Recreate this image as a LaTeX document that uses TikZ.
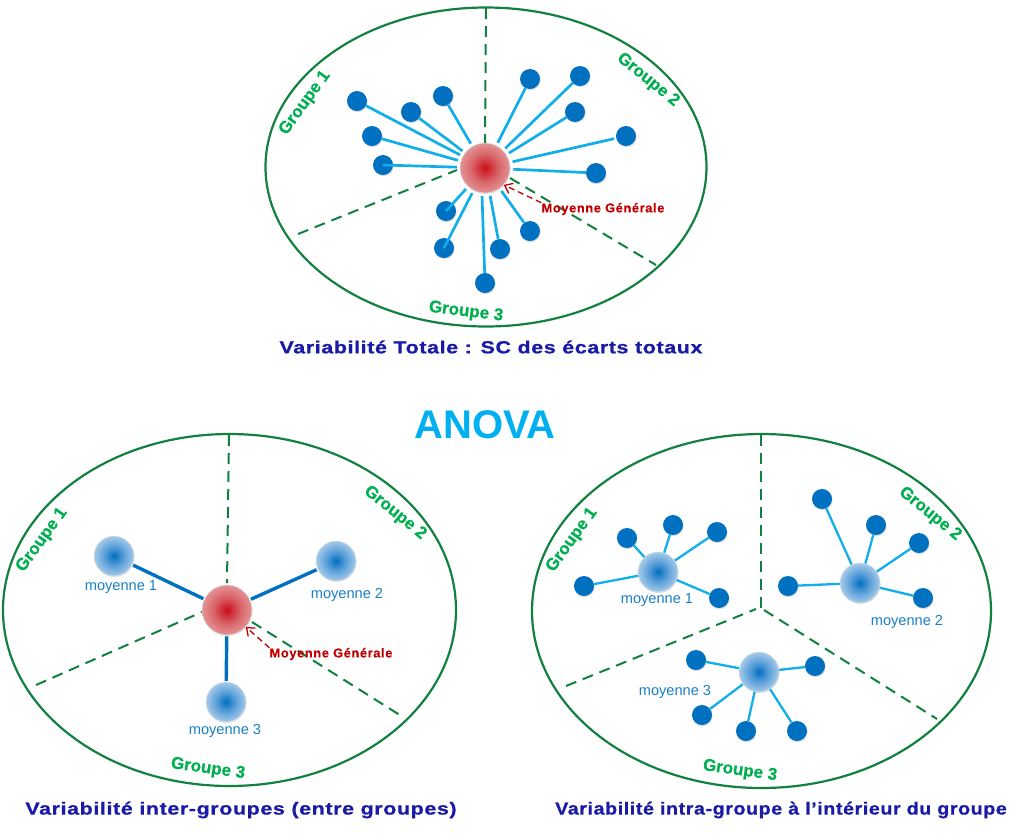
\documentclass[tikz,border=0pt]{standalone}
\usepackage{fontspec}
\setmainfont{Liberation Sans}
\newfontfamily\TitleF[LetterSpace=3.5,BoldFeatures={FakeStretch=1.225,FakeBold=.8}]{Liberation Sans}
\newfontfamily\TitleNarrowF[LetterSpace=3.5,BoldFeatures={FakeStretch=1.12,FakeBold=.8}]{Liberation Sans}
\newfontfamily\GroupF[BoldFeatures={FakeBold=.6}]{Liberation Sans}
\newfontfamily\NoteF[LetterSpace=5,BoldFeatures={FakeBold=.4}]{Liberation Sans}
\usetikzlibrary{arrows.meta,shadows}
\definecolor{ringG}{HTML}{12813F}
\definecolor{labelG}{HTML}{00AF50}
\definecolor{dotB}{HTML}{0070C0}
\definecolor{spokeB}{HTML}{12AEEA}
\definecolor{titleB}{HTML}{1A1AA6}
\definecolor{noteR}{HTML}{C00000}
\definecolor{anovaB}{HTML}{00B0F0}
\pgfdeclareradialshading{hubshade}{\pgfpoint{0bp}{0bp}}{rgb(0bp)=(0.8,0.05,0.1); rgb(14bp)=(0.85,0.4,0.42); rgb(34bp)=(0.92,0.72,0.72); rgb(50bp)=(0.95,0.89,0.88)}
\pgfdeclareradialshading{meanshade}{\pgfpoint{0bp}{0bp}}{rgb(0bp)=(0,0.44,0.75); rgb(12bp)=(0.35,0.62,0.85); rgb(30bp)=(0.76,0.86,0.94); rgb(50bp)=(0.98,0.98,0.99)}

\begin{document}
\begin{tikzpicture}[x=1pt,y=-1pt]
	\tikzstyle{ring} = [draw=ringG, line width=2.2pt]
	\tikzstyle{part} = [draw=ringG, line width=2pt, dash pattern=on 11pt off 7pt]
	\tikzstyle{hub} = [circle, draw=black!12, line width=.5pt, minimum size=50pt, inner sep=0pt, shading=hubshade, drop shadow={shadow xshift=.6pt,shadow yshift=-1pt,opacity=.25}]
	\tikzstyle{mean} = [circle, draw=black!12, line width=.5pt, minimum size=40pt, inner sep=0pt, shading=meanshade, drop shadow={shadow xshift=.6pt,shadow yshift=-1pt,opacity=.25}]
	\tikzstyle{dot} = [circle, fill=dotB, minimum size=20pt, inner sep=0pt, drop shadow={shadow xshift=.6pt,shadow yshift=-1.2pt,opacity=.25}]
	\tikzstyle{spoke} = [draw=spokeB, line width=2.7pt, shorten >=3pt]
	\tikzstyle{thin spoke} = [draw=spokeB, line width=2.3pt]
	\tikzstyle{bar} = [draw=dotB, line width=3.4pt, shorten <=1pt, shorten >=1pt]
	\tikzstyle{group} = [text=labelG, font=\GroupF\bfseries\fontsize{17}{18}\selectfont, inner sep=0pt]
	\tikzstyle{meanT} = [text=dotB!90!white, font=\fontsize{14.6}{16}\selectfont, inner sep=0pt]
	\tikzstyle{note} = [text=noteR, font=\NoteF\bfseries\fontsize{12.8}{14}\selectfont, inner sep=0pt]
	\tikzstyle{pointer} = [draw=noteR, line width=1.3pt, dash pattern=on 6pt off 4pt, -{Straight Barb[length=7pt,width=11pt]}]
	\tikzstyle{caption} = [text=titleB, font=\TitleF\bfseries\fontsize{17.5}{18}\selectfont, inner sep=0pt]

	\useasboundingbox (0,0) rectangle (1024,839);

	% total
	\coordinate (topT) at (486,8);
	\coordinate (leftT) at (298,234);
	\coordinate (rightT) at (656,265);
	\coordinate (innerLT) at (457,170);
	\coordinate (innerRT) at (510,178);
	\coordinate (innerTT) at (485,143);
	\draw[ring] (486,167) ellipse [x radius=220.5, y radius=159.5];
	\draw[part] (topT) -- (innerTT);
	\draw[part] (leftT) -- (innerLT);
	\draw[part] (innerRT) -- (rightT);
	\node(hubT)[hub] at (485,168){};
	\node(t1)[dot] at (357,101){} edge[spoke] (hubT);
	\node(t2)[dot] at (411,112){} edge[spoke] (hubT);
	\node(t3)[dot] at (443,96){} edge[spoke] (hubT);
	\node(t4)[dot] at (372,136){} edge[spoke] (hubT);
	\node(t5)[dot] at (383,165){};
	\node(t6)[dot] at (530,79){} edge[spoke] (hubT);
	\node(t7)[dot] at (580,76){} edge[spoke] (hubT);
	\node(t8)[dot] at (575,112){} edge[spoke] (hubT);
	\node(t9)[dot] at (626,136){} edge[spoke,shorten <=2pt] (hubT);
	\node(t10)[dot] at (596,173){} edge[spoke,shorten >=3pt] (hubT);
	\node(t11)[dot] at (446,211){};
	\node(t12)[dot] at (444,248){};
	\node(t13)[dot] at (500,249){} edge[spoke] (hubT);
	\node(t14)[dot] at (530,231){} edge[spoke] (hubT);
	\node(t15)[dot] at (485,283){} edge[spoke] (hubT.-97);
	\draw[spoke] (t5.center) -- (hubT);
	\draw[spoke] (t11.center) -- (hubT);
	\draw[spoke] (t12.center) -- (hubT);
	\node(g1T)[group,rotate=54] at (305,103){Groupe 1};
	\node(g2T)[group,rotate=-39] at (648,80){Groupe 2};
	\node(g3T)[group,rotate=-7] at (466,312){Groupe 3};
	\node(noteT)[note] at (603,209){Moyenne Générale};
	\draw[pointer] (noteT.north west) -- (hubT.-42);
	\node(capT)[caption] at (491,347){Variabilité Totale : SC des écarts totaux};

	\node(anova)[text=anovaB, font=\bfseries\fontsize{40}{42}\selectfont, inner sep=0pt] at (485,425){ANOVA};

	% inter
	\coordinate (topI) at (229,435);
	\coordinate (leftI) at (36,685);
	\coordinate (rightI) at (403,717);
	\coordinate (innerLI) at (202,612);
	\coordinate (innerRI) at (252,622);
	\coordinate (innerTI) at (227,583);
	\draw[ring] (229.5,610) ellipse [x radius=226.5, y radius=176];
	\draw[part] (topI) -- (innerTI);
	\draw[part] (leftI) -- (innerLI);
	\draw[part] (innerRI) -- (rightI);
	\node(hubI)[hub] at (227,610){};
	\node(m1I)[mean] at (114,556){} edge[bar] (hubI);
	\node(m2I)[mean] at (336,561){} edge[bar] (hubI);
	\node(m3I)[mean] at (226,702){} edge[bar] (hubI);
	\node(l1I)[meanT] at (121,587){moyenne 1};
	\node(l2I)[meanT] at (347,595){moyenne 2};
	\node(l3I)[meanT] at (225,731){moyenne 3};
	\node(g1I)[group,rotate=54] at (42,540){Groupe 1};
	\node(g2I)[group,rotate=-39] at (395,513){Groupe 2};
	\node(g3I)[group,rotate=-8] at (208,769){Groupe 3};
	\node(noteI)[note] at (331,654){Moyenne Générale};
	\draw[pointer] (noteI.north west) -- (hubI.-42);
	\node(capI)[caption] at (241,810){Variabilité inter-groupes (entre groupes)};

	% intra
	\coordinate (topA) at (761,435);
	\coordinate (leftA) at (566,686);
	\coordinate (rightA) at (937,719);
	\coordinate (innerLA) at (756,609);
	\coordinate (innerRA) at (764,610);
	\coordinate (innerTA) at (761,608);
	\draw[ring] (761.5,611) ellipse [x radius=229.5, y radius=177];
	\draw[part] (topA) -- (innerTA);
	\draw[part] (leftA) -- (innerLA);
	\draw[part] (innerRA) -- (rightA);
	\node(a1)[dot] at (584,586){};
	\node(a2)[dot] at (627,538){};
	\node(a3)[dot] at (673,525){};
	\node(a4)[dot] at (717,532){};
	\node(a5)[dot] at (719,598){};
	\node(a6)[dot] at (788,586){};
	\node(a7)[dot] at (822,499){};
	\node(a8)[dot] at (876,525){};
	\node(a9)[dot] at (919,543){};
	\node(a10)[dot] at (923,598){};
	\node(a11)[dot] at (696,660){};
	\node(a12)[dot] at (815,666){};
	\node(a13)[dot] at (702,715){};
	\node(a14)[dot] at (746,731){};
	\node(a15)[dot] at (797,731){};
	\coordinate (c1) at (658,572);
	\coordinate (c2) at (860,583);
	\coordinate (c3) at (759,672);
	\draw[thin spoke] (a1) -- (c1);
	\draw[thin spoke] (a2) -- (c1);
	\draw[thin spoke] (a3) -- (c1);
	\draw[thin spoke] (a4) -- (c1);
	\draw[thin spoke] (a5) -- (c1);
	\draw[thin spoke] (a6) -- (c2);
	\draw[thin spoke] (a7) -- (c2);
	\draw[thin spoke] (a8) -- (c2);
	\draw[thin spoke] (a9) -- (c2);
	\draw[thin spoke] (a10) -- (c2);
	\draw[thin spoke] (a11) -- (c3);
	\draw[thin spoke] (a12) -- (c3);
	\draw[thin spoke] (a13) -- (c3);
	\draw[thin spoke] (a14) -- (c3);
	\draw[thin spoke] (a15) -- (c3);
	\node(m1A)[mean] at (c1){};
	\node(m2A)[mean] at (c2){};
	\node(m3A)[mean] at (c3){};
	\node(l1A)[meanT] at (657,600){moyenne 1};
	\node(l2A)[meanT] at (907,622){moyenne 2};
	\node(l3A)[meanT] at (675,692){moyenne 3};
	\node(g1A)[group,rotate=54] at (572,540){Groupe 1};
	\node(g2A)[group,rotate=-39] at (930,514){Groupe 2};
	\node(g3A)[group,rotate=-8] at (740,771){Groupe 3};
	\node(capA)[caption,font=\TitleNarrowF\bfseries\fontsize{17.5}{18}\selectfont] at (781,810){Variabilité intra-groupe à l’intérieur du groupe};
\end{tikzpicture}
\end{document}
